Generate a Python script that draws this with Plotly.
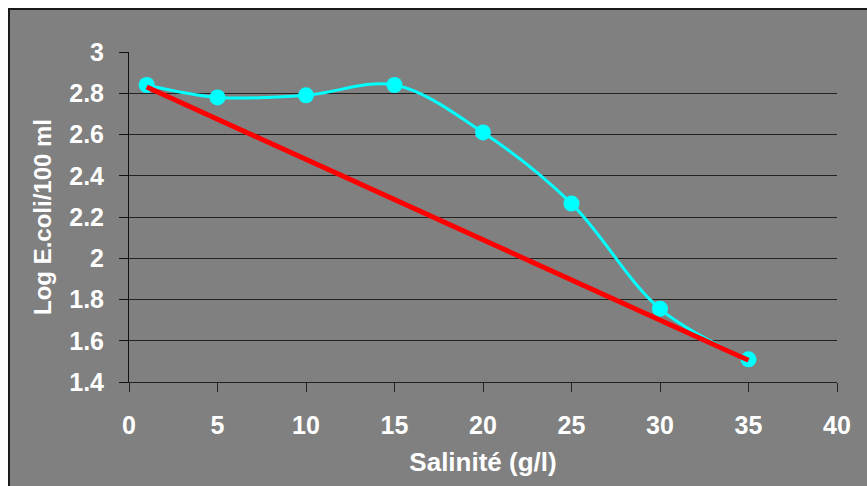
import plotly.graph_objects as go

salinity = [1, 5, 10, 15, 20, 25, 30, 35]
log_ecoli = [2.84, 2.78, 2.79, 2.84, 2.61, 2.265, 1.755, 1.51]
trend_x = [1, 35]
trend_y = [2.83, 1.505]

x_ticks = [0, 5, 10, 15, 20, 25, 30, 35, 40]
y_ticks = [1.4, 1.6, 1.8, 2.0, 2.2, 2.4, 2.6, 2.8, 3.0]
y_labels = ["1.4", "1.6", "1.8", "2", "2.2", "2.4", "2.6", "2.8", "3"]

W, H = 867, 486
L, R, T, B = 129, 30, 52, 104
pw, ph = W - L - R, H - T - B

fig = go.Figure()
fig.add_trace(go.Scatter(
    x=salinity, y=log_ecoli, mode="lines+markers",
    line=dict(color="#00FFFF", width=3, shape="spline", smoothing=1.0),
    marker=dict(color="#00FFFF", size=16),
    showlegend=False, cliponaxis=False))
fig.add_trace(go.Scatter(
    x=trend_x, y=trend_y, mode="lines",
    line=dict(color="#FF0000", width=5),
    showlegend=False, cliponaxis=False))

fam = "Liberation Sans, Arial, sans-serif"
tickfont = dict(family=fam, size=25, color="white", weight="bold")
xtitlefont = dict(family=fam, size=26, color="white", weight="bold")
ytitlefont = dict(family=fam, size=24, color="white", weight="bold")

fig.add_shape(type="rect", xref="paper", yref="paper", layer="below",
              x0=(9 - L) / pw, x1=(W + 5 - L) / pw,
              y0=-(H + 5 - T - ph) / ph, y1=(ph + T - 9) / ph,
              fillcolor="#808080", line=dict(color="#1a1a1a", width=2))

fig.update_layout(
    width=W, height=H,
    margin=dict(l=L, r=R, t=T, b=B),
    paper_bgcolor="white", plot_bgcolor="#808080",
    font=dict(family=fam, color="white"),
    xaxis=dict(range=[0, 40], tickvals=x_ticks, showgrid=False, zeroline=False,
               showline=True, linecolor="#222222", linewidth=1,
               ticks="outside", ticklen=9, tickcolor="#222222", tickwidth=1,
               tickfont=tickfont, ticklabelstandoff=12,
               title=dict(text="Salinité (g/l)", font=xtitlefont, standoff=14)),
    yaxis=dict(range=[1.4, 3.0], tickvals=y_ticks, ticktext=y_labels,
               showgrid=True, gridcolor="#222222", gridwidth=1, zeroline=False,
               showline=True, linecolor="#111111", linewidth=1,
               ticks="outside", ticklen=9, tickcolor="#111111", tickwidth=1,
               tickfont=tickfont, ticklabelstandoff=10,
               title=dict(text="Log E.coli/100 ml", font=ytitlefont, standoff=10)),
)

fig.write_html("out.html")
